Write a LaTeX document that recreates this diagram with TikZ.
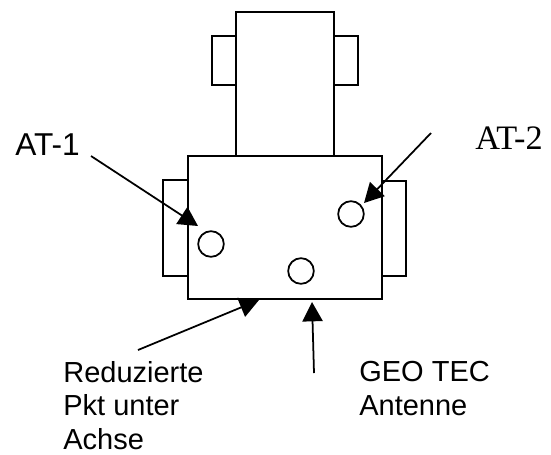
\documentclass[tikz,border=0pt]{standalone}
\usepackage{fontspec}
\setmainfont{Liberation Sans}
\newfontfamily\serifface{Liberation Serif}
\usepackage{tikz}
\usetikzlibrary{arrows.meta}
\tikzset{
  line/.style={line width=1pt},
  pointer/.style={line width=1pt, -{Triangle[length=11pt,width=11.5pt]}},
  hole/.style={circle, draw, line width=1pt, fill=white, minimum size=14.6pt, inner sep=0pt},
  caption/.style={align=left, anchor=north west, inner sep=0pt, font=\fontsize{16.5pt}{19.1pt}\selectfont}
}

\begin{document}
\begin{tikzpicture}[x=0.02cm, y=-0.02cm]
            \useasboundingbox (0, 0) rectangle (551, 454);

            \draw[line] (212, 36) rectangle (236, 85);
            \draw[line] (334, 36) rectangle (358, 85);
            \draw[line] (163, 180) rectangle (188, 276);
            \draw[line] (382, 181) rectangle (406, 276);
            \draw[line] (236, 12) rectangle (334, 156);
            \draw[line] (188, 156) rectangle (382, 299);

            \node[hole] (holeA) at (211, 244) {};
            \node[hole] (holeB) at (301, 271) {};
            \node[hole] (holeC) at (351, 214) {};

            \node[caption, font=\fontsize{18pt}{20pt}\selectfont] (atOne) at (15, 133) {AT-1};
            \node[caption, font=\fontsize{19.5pt}{22pt}\serifface] (atTwo) at (475, 126) {AT-2};
            \node[caption] (reduced) at (63, 361) {Reduzierte\\Pkt unter\\Achse};
            \node[caption] (antenna) at (359, 361) {GEO TEC\\Antenne};

            \coordinate (startA) at (91, 156);
            \coordinate (tipA) at (198, 226);
            \coordinate (startB) at (431, 133);
            \coordinate (tipB) at (364, 203);
            \coordinate (startC) at (138, 350);
            \coordinate (tipC) at (259, 300);
            \coordinate (startD) at (314, 373);
            \coordinate (tipD) at (312, 302);

            \draw[pointer] (startA) -- (tipA);
            \draw[pointer] (startB) -- (tipB);
            \draw[pointer] (startC) -- (tipC);
            \draw[pointer] (startD) -- (tipD);
\end{tikzpicture}
\end{document}
